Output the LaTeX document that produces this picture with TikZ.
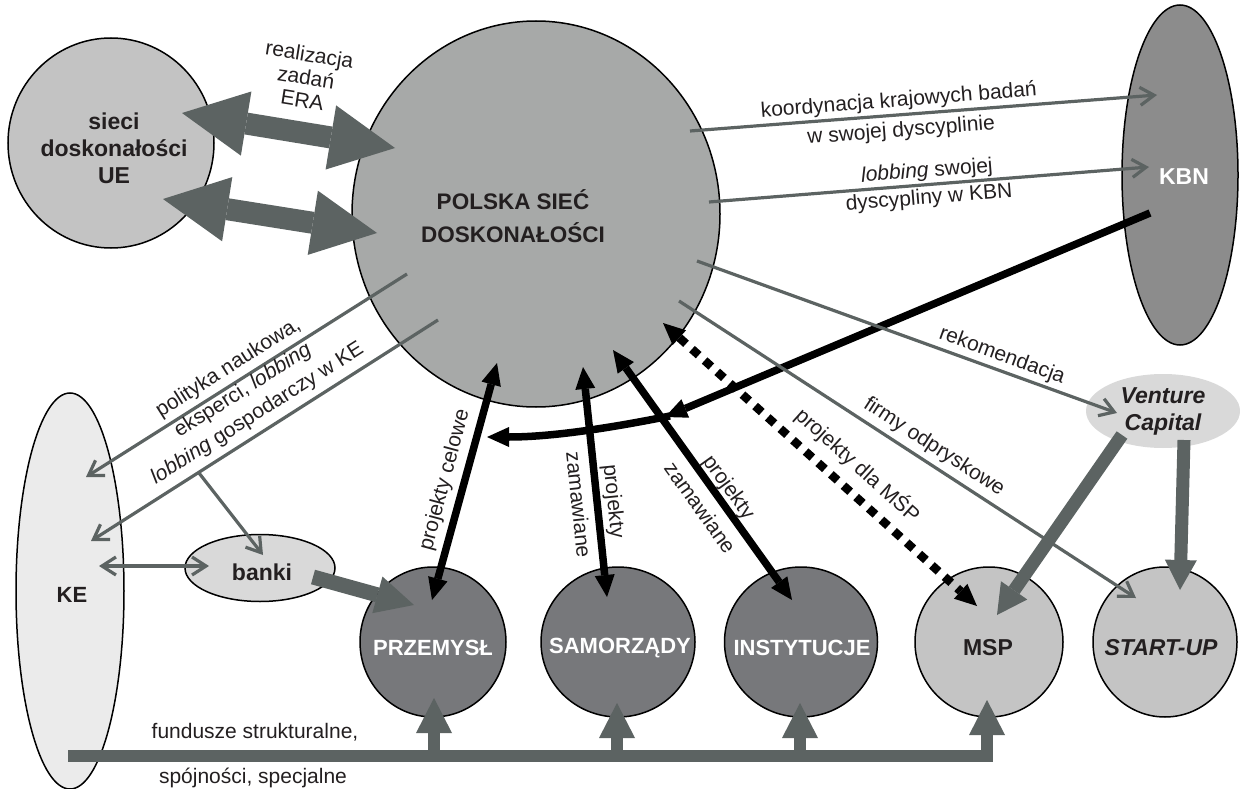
\documentclass[tikz,border=0pt]{standalone}
\usepackage{fontspec}
\setmainfont{Liberation Sans}
\usetikzlibrary{arrows.meta,shapes.geometric}

\definecolor{linkgray}{RGB}{92,99,98}
\definecolor{inkdark}{RGB}{35,31,32}
\definecolor{fillpsd}{RGB}{167,169,168}
\definecolor{fillue}{RGB}{195,195,195}
\definecolor{fillkbn}{RGB}{140,140,140}
\definecolor{fillke}{RGB}{235,235,235}
\definecolor{filllight}{RGB}{217,217,217}
\definecolor{filldark}{RGB}{119,120,123}
\definecolor{fillsme}{RGB}{196,196,196}

\begin{document}
\begin{tikzpicture}[x=1pt,y=-1pt,
  blob/.style={ellipse,draw=black,line width=1.5pt,inner sep=0pt},
  wh/.style 2 args={minimum width=#1pt,minimum height=#2pt},
  lbltxt/.style={font=\fontsize{21}{25}\selectfont,text=inkdark,inner sep=0pt,align=center},
  headtxt/.style={font=\fontsize{23}{27}\selectfont\bfseries,text=inkdark,inner sep=0pt,align=center},
  whitetxt/.style={font=\fontsize{22}{26}\selectfont\bfseries,text=white,inner sep=0pt},
  link/.style={draw=linkgray,line width=3.2pt,-{Straight Barb[length=14pt,width=18pt]}},
  twolink/.style={draw=linkgray,line width=3.2pt,{Straight Barb[length=14pt,width=18pt]}-{Straight Barb[length=14pt,width=18pt]}},
  heavy/.style={draw=black,line width=7.5pt,{Triangle[length=22pt,width=20pt,line width=0pt]}-{Triangle[length=22pt,width=20pt,line width=0pt]}},
  heavyone/.style={draw=black,line width=7.5pt,-{Triangle[length=22pt,width=20pt,line width=0pt]}},
  dotlink/.style={draw=black,line width=8.5pt,dash pattern=on 9pt off 8pt,{Triangle[length=22pt,width=20pt,line width=0pt]}-{Triangle[length=22pt,width=20pt,line width=0pt]}},
  broad/.style={draw=linkgray,line width=22pt,{Triangle[length=65pt,width=65pt,line width=0pt]}-{Triangle[length=65pt,width=65pt,line width=0pt]}},
  feed/.style={draw=linkgray,line width=13pt,-{Triangle[length=30pt,width=32pt,line width=0pt]}},
  supply/.style={draw=linkgray,line width=12pt,-{Triangle[length=35pt,width=36pt,line width=0pt]}},
]
\useasboundingbox (0,0) rectangle (1240,789);

% ---------- bodies ----------
\node[blob,fill=fillue,wh={206}{210}] (ue) at (111,143) {};
\node[blob,fill=fillpsd,wh={368}{386}] (psd) at (536,214) {};
\node[blob,fill=fillkbn,wh={116}{340}] (kbn) at (1180,175) {};
\node[blob,fill=fillke,wh={108}{396}] (ke) at (70,591) {};
\node[blob,fill=filllight,wh={150}{67}] (banki) at (260,568) {};
\node[ellipse,fill=filllight,inner sep=0pt,wh={154}{74}] (vc) at (1163,411) {};
\node[blob,fill=filldark,wh={146}{150}] (prz) at (433,642) {};
\node[blob,fill=filldark,wh={154}{150}] (sam) at (618,642) {};
\node[blob,fill=filldark,wh={153}{150}] (ins) at (801,642) {};
\node[blob,fill=fillsme,wh={148}{150}] (msp) at (989,642) {};
\node[blob,fill=fillsme,wh={144}{150}] (su) at (1165,642) {};

% ---------- body texts ----------
\node[headtxt] (ue-t) at (114,148) {sieci\\doskonałości\\UE};
\node[headtxt,font=\fontsize{22.5}{33}\selectfont\bfseries] (psd-t) at (513,216) {POLSKA SIEĆ\\DOSKONAŁOŚCI};
\node[whitetxt,font=\fontsize{23}{27}\selectfont\bfseries] (kbn-t) at (1184,177) {KBN};
\node[headtxt,font=\fontsize{22}{26}\selectfont\bfseries] (ke-t) at (72,595) {KE};
\node[headtxt] (banki-t) at (262,572) {banki};
\node[headtxt,font=\fontsize{23}{27}\selectfont\bfseries\itshape] (vc-t) at (1163,411) {Venture\\Capital};
\node[whitetxt] (prz-t) at (433,648) {PRZEMYSŁ};
\node[whitetxt] (sam-t) at (620,648) {SAMORZĄDY};
\node[whitetxt] (ins-t) at (802,648) {INSTYTUCJE};
\node[headtxt] (msp-t) at (988,648) {MSP};
\node[headtxt,font=\fontsize{23}{27}\selectfont\bfseries\itshape] (su-t) at (1161,648) {START-UP};

% ---------- connector end points ----------
\coordinate (eraA1) at (182,113);  \coordinate (eraA2) at (395,148);
\coordinate (eraB1) at (163,199);  \coordinate (eraB2) at (377,233);
\coordinate (kord1) at (690,131);  \coordinate (kord2) at (1157,95);
\coordinate (lob1)  at (709,202);  \coordinate (lob2)  at (1149,167);
\coordinate (rek1)  at (697,261);  \coordinate (rek2)  at (1117,413);
\coordinate (fir1)  at (679,301);  \coordinate (fir2)  at (1136,598);
\coordinate (pol1)  at (407,274);  \coordinate (pol2)  at (86,477);
\coordinate (gos1)  at (438,320);  \coordinate (gos2)  at (91,541);
\coordinate (bnk1)  at (199,473);  \coordinate (bnk2)  at (263,555);
\coordinate (keb1)  at (99,566);   \coordinate (keb2)  at (209,566);
\coordinate (cel1)  at (497,363);  \coordinate (cel2)  at (432,600);
\coordinate (zmA1)  at (583,367);  \coordinate (zmA2)  at (607,597);
\coordinate (zmB1)  at (613,350);  \coordinate (zmB2)  at (792,600);
\coordinate (kbn1)  at (1150,213); \coordinate (kbn2)  at (665,417);
\coordinate (kbn3)  at (670,416);  \coordinate (kbn4)  at (487,437);
\coordinate (msp1)  at (663,323);  \coordinate (msp2)  at (977,606);
\coordinate (bp1)   at (313,577);  \coordinate (bp2)   at (414,605);
\coordinate (vm1)   at (1122,435); \coordinate (vm2)   at (997,615);
\coordinate (vs1)   at (1184,440); \coordinate (vs2)   at (1180,590);
\coordinate (bar0)  at (68,756);   \coordinate (barM)  at (987,700);
\coordinate (fP1)   at (434,756);  \coordinate (fP2)   at (434,698);
\coordinate (fS1)   at (617,756);  \coordinate (fS2)   at (617,703);
\coordinate (fI1)   at (800,756);  \coordinate (fI2)   at (800,703);

% ---------- broad grey links ----------
\draw[broad] (eraA1) -- (eraA2);
\draw[broad] (eraB1) -- (eraB2);
\draw[feed,line width=15pt,-{Triangle[length=38pt,width=38pt,line width=0pt]}] (bp1) -- (bp2);
\draw[feed] (vm1) -- (vm2);
\draw[feed] (vs1) -- (vs2);

% funding bar with risers
\draw[supply,line join=miter] (bar0) -| (barM);
\draw[supply] (fP1) -- (fP2);
\draw[supply] (fS1) -- (fS2);
\draw[supply] (fI1) -- (fI2);

% ---------- black project links ----------
\draw[heavyone] (kbn1) -- (kbn2);
\draw[heavyone] (kbn3) .. controls (630,424) and (560,437) .. (kbn4);
\draw[heavy] (cel1) -- (cel2);
\draw[heavy] (zmA1) -- (zmA2);
\draw[heavy] (zmB1) -- (zmB2);
\draw[dotlink] (msp1) -- (msp2);

% ---------- thin grey links ----------
\draw[link] (kord1) -- (kord2);
\draw[link] (lob1) -- (lob2);
\draw[link] (rek1) -- (rek2);
\draw[link] (fir1) -- (fir2);
\draw[link] (pol1) -- (pol2);
\draw[link] (gos1) -- (gos2);
\draw[link] (bnk1) -- (bnk2);
\draw[twolink] (keb1) -- (keb2);

% ---------- link labels ----------
\node[lbltxt,font=\fontsize{21}{23}\selectfont,rotate=-9] (era-t) at (306,77) {realizacja\\zadań\\ERA};
\node[lbltxt,font=\fontsize{21}{30}\selectfont,rotate=4.4] (kord-t) at (900,116) {koordynacja krajowych badań\\w swojej dyscyplinie};
\node[lbltxt,font=\fontsize{21}{27}\selectfont,rotate=4.5] (lob-t) at (928,185) {\textit{lobbing} swojej\\dyscypliny w KBN};
\node[lbltxt,rotate=-20] (rek-t) at (1002,356) {rekomendacja};
\node[lbltxt,rotate=-33] (fir-t) at (934,447) {firmy odpryskowe};
\node[lbltxt,rotate=-42] (msp-l) at (858,465) {projekty dla MŚP};
\node[lbltxt,rotate=75] (cel-t) at (445,480) {projekty celowe};
\node[lbltxt,font=\fontsize{21}{36}\selectfont,rotate=-84] (zmA-t) at (597,503) {projekty\\zamawiane};
\node[lbltxt,font=\fontsize{21}{36}\selectfont,rotate=-54.4] (zmB-t) at (715,497) {projekty\\zamawiane};
\node[lbltxt,font=\fontsize{21}{27}\selectfont,rotate=32.4] (ke-l) at (243,391) {polityka naukowa,\\eksperci, \textit{lobbing}\\\textit{lobbing} gospodarczy w KE};
\node[lbltxt] (fund1) at (255,732) {fundusze strukturalne,};
\node[lbltxt] (fund2) at (253,778) {spójności, specjalne};

\end{tikzpicture}
\end{document}
